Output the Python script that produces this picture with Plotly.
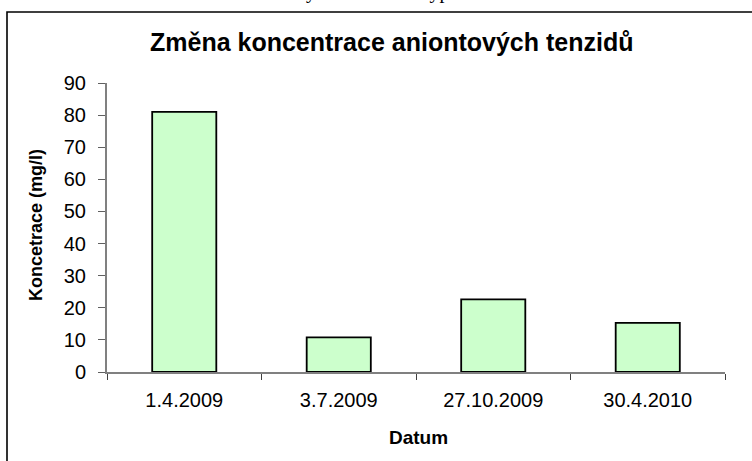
import plotly.graph_objects as go

categories = ["1.4.2009", "3.7.2009", "27.10.2009", "30.4.2010"]
values = [81, 10.8, 22.6, 15.3]
y_ticks = [0, 10, 20, 30, 40, 50, 60, 70, 80, 90]

title_text = "Změna koncentrace aniontových tenzidů"
x_title = "Datum"
y_title = "Koncetrace (mg/l)"

W, H = 752, 461
L, R, T, B = 107, 27, 83, 89
PW = W - L - R
PH = H - T - B


def px_x(x):
    return (x - L) / PW


def px_y(y):
    return (H - B - y) / PH


fig = go.Figure()
fig.add_trace(go.Bar(
    x=categories,
    y=values,
    width=0.415,
    marker=dict(color="#CCFFCC", line=dict(color="#000000", width=1.8)),
))

font_family = "Liberation Sans, Arial, sans-serif"

fig.update_layout(
    width=W,
    height=H,
    margin=dict(l=L, r=R, t=T, b=B, pad=0),
    paper_bgcolor="white",
    plot_bgcolor="white",
    showlegend=False,
    font=dict(family=font_family, color="#000000"),
    xaxis=dict(
        type="category",
        range=[-0.5, 3.5],
        showline=True,
        linecolor="#808080",
        linewidth=2,
        ticks="outside",
        tickson="boundaries",
        ticklen=6,
        tickcolor="#404040",
        tickwidth=1,
        showgrid=False,
        tickfont=dict(size=20, family=font_family),
        ticklabelstandoff=9,
        zeroline=False,
    ),
    yaxis=dict(
        range=[0, 90],
        tickvals=y_ticks,
        showline=True,
        linecolor="#808080",
        linewidth=2,
        ticks="outside",
        ticklen=7,
        tickcolor="#606060",
        tickwidth=1,
        showgrid=False,
        zeroline=False,
        tickfont=dict(size=20, family=font_family),
        ticklabelstandoff=8,
    ),
    shapes=[
        dict(type="rect", xref="paper", yref="paper",
             x0=px_x(7), x1=px_x(790), y0=px_y(500), y1=px_y(12),
             line=dict(color="#000000", width=1.6), fillcolor="rgba(0,0,0,0)",
             layer="below"),
    ],
    annotations=[
        dict(text="<b>" + title_text + "</b>", xref="paper", yref="paper",
             x=px_x(391), y=px_y(42), xanchor="center", yanchor="middle",
             showarrow=False, font=dict(size=25, family=font_family, color="#000000")),
        dict(text="<b>" + x_title + "</b>", xref="paper", yref="paper",
             x=px_x(418), y=px_y(437), xanchor="center", yanchor="middle",
             showarrow=False, font=dict(size=19, family=font_family, color="#000000")),
        dict(text="<b>" + y_title + "</b>", xref="paper", yref="paper",
             x=px_x(36), y=px_y(225), xanchor="center", yanchor="middle",
             textangle=-90,
             showarrow=False, font=dict(size=18, family=font_family, color="#000000")),
        dict(text="y", xref="paper", yref="paper",
             x=px_x(311), y=px_y(5), xanchor="center", yanchor="bottom",
             showarrow=False, font=dict(size=20, family="Liberation Serif, serif", color="#000000")),
        dict(text="typ", xref="paper", yref="paper",
             x=px_x(437), y=px_y(5), xanchor="center", yanchor="bottom",
             showarrow=False, font=dict(size=20, family="Liberation Serif, serif", color="#000000")),
    ],
)

fig.write_html("out.html", config={"displayModeBar": False},
               post_script="document.body.style.margin='0';")
